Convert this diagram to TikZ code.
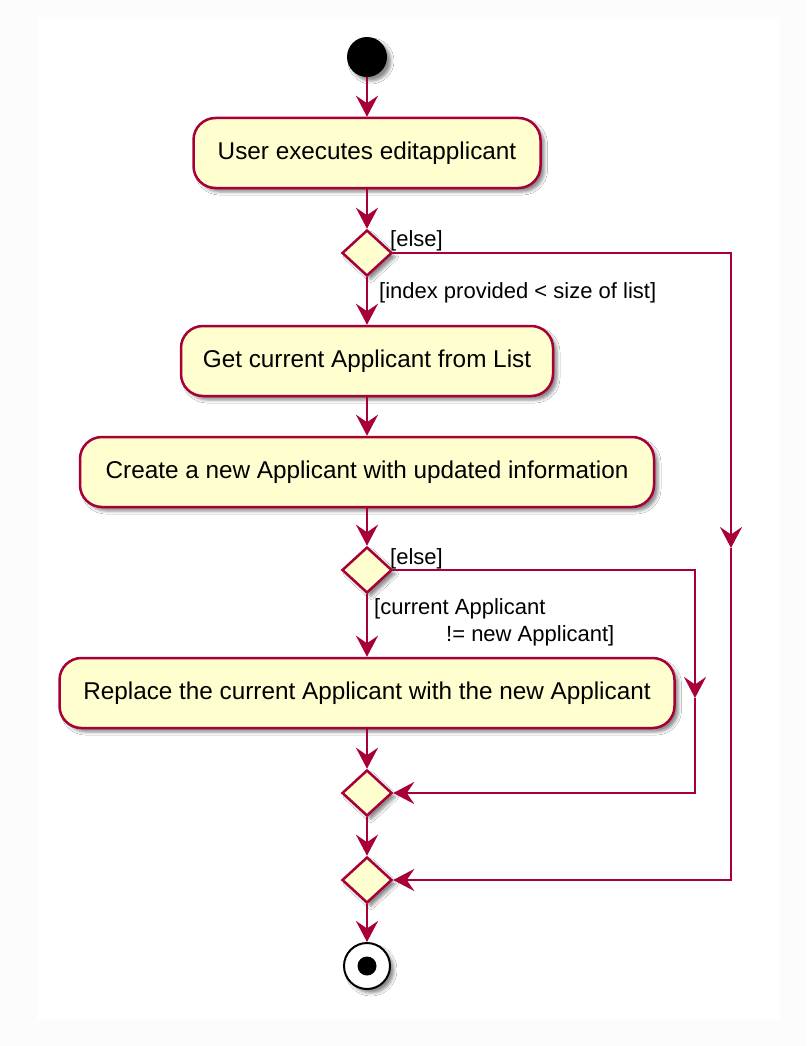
\documentclass[tikz,border=0pt]{standalone}
\usepackage{fontspec}
\setmainfont{Liberation Sans}
\usetikzlibrary{arrows.meta,shapes.geometric,shadows.blur}
\definecolor{puml}{HTML}{A80036}
\definecolor{pfill}{HTML}{FEFECE}
\definecolor{outerbg}{HTML}{FCFCFC}
\begin{document}
\begin{tikzpicture}[x=1pt,y=-1pt,
 shad/.style={blur shadow={shadow xshift=4pt,shadow yshift=-4pt,shadow blur radius=3pt,shadow opacity=45}},
 act/.style={draw=puml,fill=pfill,line width=2.5pt,rounded corners=22pt,minimum height=70pt,inner sep=0pt,font=\fontsize{24.3}{29}\selectfont,shad},
 dec/.style={draw=puml,fill=pfill,line width=2.5pt,diamond,minimum width=50pt,minimum height=46pt,inner sep=0pt,shad},
 flow/.style={draw=puml,line width=2.6pt,-{Stealth[length=21pt,width=22pt,inset=7.5pt]}},
 lbl/.style={font=\fontsize{22}{26}\selectfont,inner sep=0pt,anchor=west}]
\useasboundingbox (0,0) rectangle (806,1046);
\fill[outerbg] (0,0) rectangle (806,1046);
\fill[white] (38,17) rectangle (780,1020);

\node[circle,fill=black,minimum size=40pt,inner sep=0pt,shad] (start) at (367,57) {};
\node[act,minimum width=347pt] (a1) at (367,153) {User executes editapplicant};
\node[dec] (d1) at (367,253) {};
\node[act,minimum width=372pt] (a2) at (367,361) {Get current Applicant from List};
\node[act,minimum width=574pt] (a3) at (367,472) {Create a new Applicant with updated information};
\node[dec] (d2) at (367,570) {};
\node[act,minimum width=615pt] (a4) at (367,693) {Replace the current Applicant with the new Applicant};
\node[dec] (d3) at (367,793) {};
\node[dec] (d4) at (367,880) {};
\node[circle,draw=black,line width=2pt,fill=white,minimum size=46pt,inner sep=0pt,shad] (stop) at (367,966) {};
\node[circle,fill=black,minimum size=19pt,inner sep=0pt] (stopin) at (367,966) {};

\coordinate (c1) at (731,548);
\coordinate (c2) at (695,698);

\draw[flow] (start) -- (a1);
\draw[flow] (a1) -- (d1);
\draw[flow] (d1) -- (a2);
\draw[flow] (a2) -- (a3);
\draw[flow] (a3) -- (d2);
\draw[flow] (d2) -- (a4);
\draw[flow] (a4) -- (d3);
\draw[flow] (d3) -- (d4);
\draw[flow] (d4) -- (stop);

\draw[flow] (d1.east) -| (c1);
\draw[flow] (c1) |- (d4.east);
\draw[flow] (d2.east) -| (c2);
\draw[flow] (c2) |- (d3.east);

\node[lbl] (l1) at (390,241) {[else]};
\node[lbl] (l2) at (379,293) {[index provided < size of list]};
\node[lbl] (l3) at (390,559) {[else]};
\node[lbl] (l4) at (374,609) {[current Applicant};
\node[lbl] (l5) at (446,636) {!= new Applicant]};
\end{tikzpicture}
\end{document}
